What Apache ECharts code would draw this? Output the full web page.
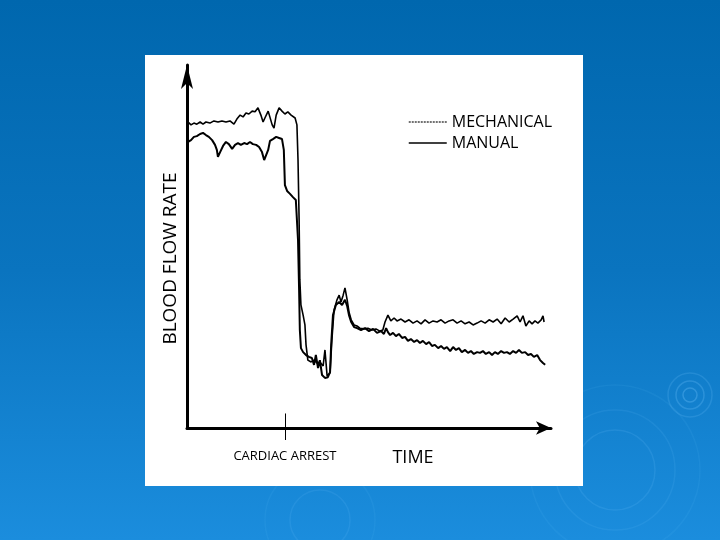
<!DOCTYPE html>
<html>
<head>
<meta charset="utf-8">
<script src="https://cdn.jsdelivr.net/npm/echarts@6/dist/echarts.min.js"></script>
<style>html,body{margin:0;padding:0;}#c{width:720px;height:540px;}</style>
</head>
<body>
<div id="c"></div>
<script>
// Blood flow rate (arbitrary units 0-100) versus time (arbitrary units 0-100)
var mechanical = [
[0.3,84.3],[1.1,83.5],[1.9,84.0],[2.7,83.7],[3.6,84.3],[4.4,83.7],[5.2,84.3],[6.3,84.0],[7.4,84.6],[8.5,84.3],
[9.6,84.6],[10.7,84.3],[11.8,84.6],[12.9,83.7],[13.7,85.1],[14.6,86.2],[15.4,85.7],[16.2,86.8],[17.0,86.5],[17.9,87.3],
[18.7,87.1],[19.5,88.2],[20.3,86.2],[20.9,84.3],[21.4,85.4],[22.3,87.3],[22.8,86.8],[23.4,83.5],[23.9,82.6],[24.5,86.2],
[25.3,88.2],[26.1,87.3],[26.9,86.5],[27.7,87.1],[28.6,86.2],[29.7,85.4],[30.2,83.5],[30.5,73.8],[30.8,57.3],[31.0,40.8],
[31.3,33.9],[31.9,31.1],[32.4,28.4],[32.7,22.9],[33.2,18.7],[34.1,18.2],[34.9,18.7],[35.7,17.9],[36.5,18.2],[37.4,17.1],
[37.9,21.5],[38.5,14.3],[39.3,15.2],[39.8,24.2],[40.4,32.5],[41.2,35.3],[41.8,36.6],[42.3,34.7],[42.9,36.6],[43.4,38.6],
[44.0,35.3],[44.5,32.0],[45.1,29.8],[45.9,28.4],[46.7,28.1],[47.5,27.5],[48.6,27.3],[49.7,27.5],[50.8,27.0],[51.9,27.3],
[53.0,26.7],[53.8,27.0],[54.4,29.2],[55.2,31.1],[56.0,29.5],[56.9,30.3],[57.7,29.5],[58.8,30.0],[59.9,29.2],[61.0,29.8],
[62.1,28.9],[63.2,29.5],[64.3,28.7],[65.4,29.8],[66.5,28.9],[67.6,29.5],[68.7,29.2],[69.8,29.8],[70.9,28.9],[72.0,29.5],
[73.1,29.8],[74.2,28.9],[75.3,29.5],[76.4,28.7],[77.5,29.2],[78.6,28.4],[79.7,28.9],[80.8,29.5],[81.9,28.9],[83.0,29.8],
[84.1,29.2],[85.2,30.0],[86.3,28.7],[87.4,30.3],[88.5,29.2],[89.6,30.0],[90.7,30.9],[91.5,29.2],[92.3,30.9],[93.1,28.1],
[94.0,29.5],[94.8,28.7],[95.6,29.5],[96.4,28.9],[97.3,29.8],[97.8,30.9],[98.1,29.2]
];
var manual = [
[0.3,78.8],[1.1,79.3],[1.9,80.2],[2.7,80.4],[3.6,81.0],[4.4,81.3],[5.2,80.7],[6.0,80.2],[6.9,79.3],[7.7,78.0],
[8.2,76.6],[8.5,74.7],[9.1,76.0],[9.9,77.7],[10.7,78.8],[11.5,78.2],[12.4,76.9],[13.2,78.0],[14.0,78.5],[14.8,78.0],
[15.7,78.5],[16.5,78.2],[17.3,78.8],[18.1,78.2],[19.0,78.0],[19.8,77.4],[20.6,76.0],[21.2,73.8],[21.7,73.6],[22.3,76.6],
[22.8,79.1],[23.6,79.6],[24.5,80.2],[25.3,79.9],[26.1,79.6],[26.6,76.6],[26.9,66.9],[27.5,65.3],[28.3,64.5],[29.1,63.6],
[29.9,62.8],[30.5,51.8],[30.8,38.0],[31.0,27.0],[31.3,22.0],[31.9,20.9],[32.7,20.1],[33.5,19.6],[34.3,19.3],[34.9,17.4],
[35.4,20.1],[36.0,16.5],[36.5,18.7],[37.1,14.6],[37.9,13.8],[38.7,14.0],[39.3,15.4],[39.6,22.9],[40.1,31.1],[40.9,33.9],
[41.8,34.7],[42.6,33.9],[43.4,35.3],[44.0,33.6],[44.5,31.1],[45.1,29.2],[45.9,27.8],[46.7,27.5],[47.8,27.0],[48.9,27.5],
[50.0,26.7],[51.1,27.3],[52.2,26.2],[53.3,26.7],[54.1,25.9],[54.7,27.5],[55.2,26.4],[55.8,25.6],[56.6,26.2],[57.4,25.3],
[58.2,25.9],[59.1,24.8],[59.9,25.1],[60.7,24.0],[61.5,24.5],[62.4,23.7],[63.2,24.2],[64.0,23.4],[64.8,24.0],[65.7,23.1],
[66.5,23.7],[67.3,22.6],[68.1,22.9],[69.0,22.0],[69.8,22.6],[70.6,21.8],[71.4,22.3],[72.3,21.2],[73.1,22.3],[73.9,21.5],
[74.7,22.0],[75.5,20.9],[76.4,21.5],[77.2,20.7],[78.0,21.2],[78.8,20.4],[79.7,20.9],[80.5,20.7],[81.3,21.2],[82.1,20.4],
[83.0,20.9],[83.8,20.1],[84.6,20.9],[85.4,20.4],[86.3,21.2],[87.1,20.7],[87.9,20.9],[88.7,20.4],[89.6,21.2],[90.4,20.7],
[91.2,21.5],[92.0,20.7],[92.9,20.9],[93.7,20.1],[94.5,20.4],[95.3,19.6],[96.2,20.1],[97.0,18.7],[97.8,17.9],[98.4,17.4]
];
var seriesNames = ['MECHANICAL', 'MANUAL'];
var cardiacArrestTime = [26.9];
var xLabel = 'TIME';
var yLabel = 'BLOOD FLOW RATE';
var eventLabel = 'CARDIAC ARREST';

var chart = echarts.init(document.getElementById('c'), null, {renderer: 'canvas'});
var font = 'Open Sans';
var ring = function (cx, cy, r, o) {
  return {type: 'circle', silent: true, z: -1, shape: {cx: cx, cy: cy, r: r},
    style: {fill: 'none', stroke: 'rgba(120,200,255,' + o + ')', lineWidth: 1.5}};
};
var option = {
  animation: false,
  backgroundColor: {type: 'linear', x: 0, y: 0, x2: 0, y2: 1,
    colorStops: [{offset: 0, color: '#0067ae'}, {offset: 0.5, color: '#0a74bf'}, {offset: 1, color: '#1b8ddd'}]},
  graphic: [
    ring(690, 395, 7, 0.3), ring(690, 395, 14, 0.25), ring(690, 395, 22, 0.18),
    ring(615, 470, 40, 0.14), ring(615, 470, 60, 0.11), ring(615, 470, 85, 0.08),
    ring(320, 520, 30, 0.12), ring(320, 520, 55, 0.08),
    {type: 'rect', z: 0, silent: true, shape: {x: 145, y: 55, width: 438, height: 431}, style: {fill: '#ffffff'}}
  ],
  grid: {left: 187, top: 65, right: 169, bottom: 112, containLabel: false, z: 5},
  legend: {
    orient: 'vertical', left: 403, top: 109, itemWidth: 38, itemHeight: 12, itemGap: 5,
    textStyle: {color: '#000', fontFamily: font, fontSize: 16},
    data: [
      {name: seriesNames[0], itemStyle: {opacity: 0}, lineStyle: {color: '#444', width: 1.5, type: [2, 1]}},
      {name: seriesNames[1], itemStyle: {opacity: 0}, lineStyle: {color: '#000', width: 1.5}}
    ]
  },
  xAxis: {
    type: 'value', min: 0, max: 100, splitLine: {show: false},
    axisLine: {show: true, onZero: false, symbol: ['none', 'arrow'], symbolSize: [10, 15], lineStyle: {color: '#000', width: 3}},
    axisTick: {show: true, customValues: cardiacArrestTime, length: 12, lineStyle: {color: '#000', width: 1}},
    axisLabel: {show: true, customValues: cardiacArrestTime, margin: 22, formatter: function () { return eventLabel; },
      color: '#000', fontFamily: font, fontSize: 13},
    name: xLabel, nameLocation: 'middle', nameGap: 21, nameMoveOverlap: false,
    nameTextStyle: {color: '#000', fontFamily: font, fontSize: 18, padding: [0, 0, 0, 88]}
  },
  yAxis: {
    type: 'value', min: 0, max: 100, splitLine: {show: false},
    axisLine: {show: true, onZero: false, symbol: ['none', 'arrow'], symbolSize: [9, 24], lineStyle: {color: '#000', width: 3}},
    axisTick: {show: false}, axisLabel: {show: false},
    name: yLabel, nameLocation: 'middle', nameGap: 7, nameRotate: 90, nameMoveOverlap: false,
    nameTextStyle: {color: '#000', fontFamily: font, fontSize: 19, padding: [0, 24, 0, 0]}
  },
  series: [
    {name: seriesNames[0], type: 'line', data: mechanical, showSymbol: false, symbol: 'none', z: 6,
      itemStyle: {color: '#000'}, lineStyle: {color: '#000', width: 1.6},
      markLine: {silent: true, symbol: 'none', label: {show: false}, lineStyle: {color: '#000', width: 1, type: 'solid'},
        data: [[{coord: [cardiacArrestTime[0], 0]}, {coord: [cardiacArrestTime[0], 4]}]]}},
    {name: seriesNames[1], type: 'line', data: manual, showSymbol: false, symbol: 'none', z: 6,
      itemStyle: {color: '#000'}, lineStyle: {color: '#000', width: 2}}
  ]
};
chart.setOption(option);
</script>
</body>
</html>
